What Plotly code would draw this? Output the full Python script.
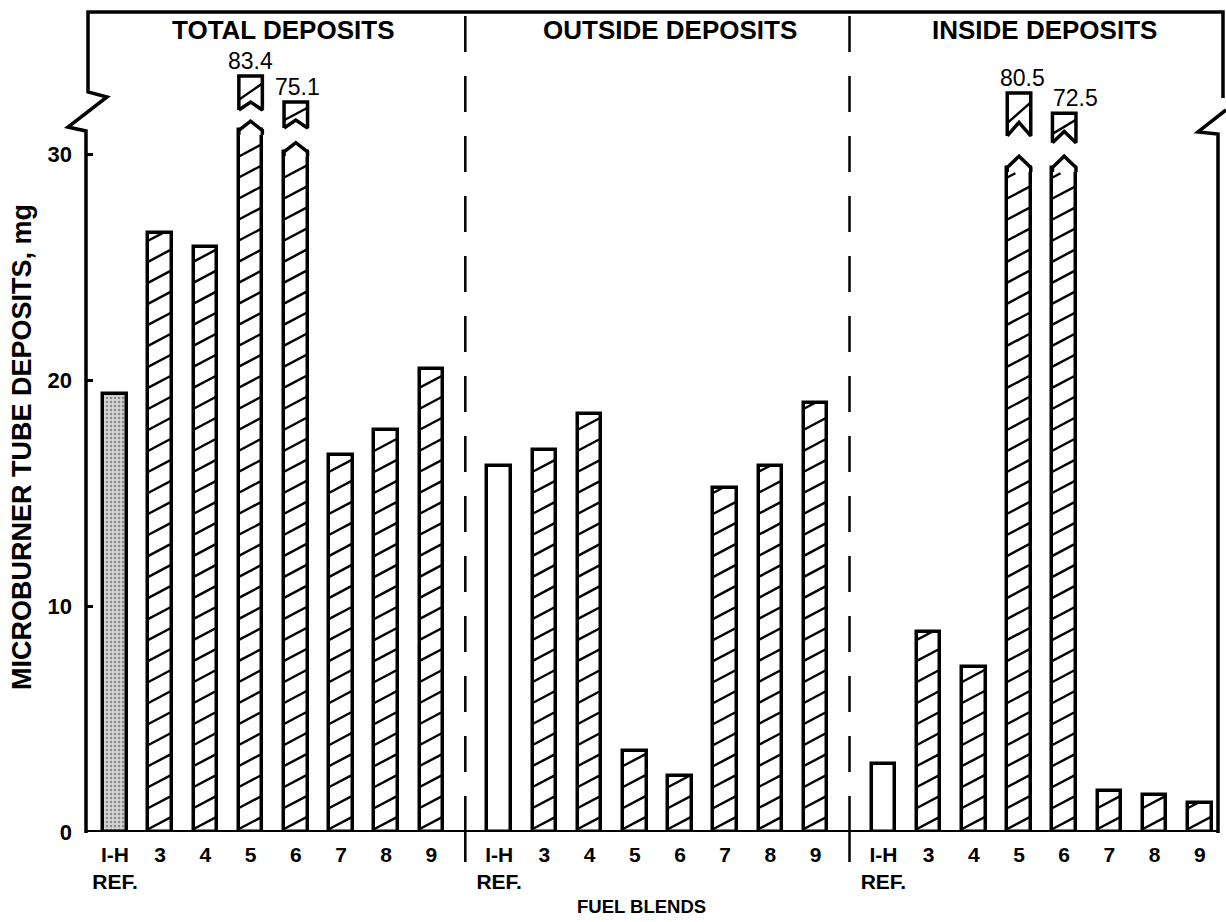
import plotly.graph_objects as go

# ---------------- data ----------------
BLENDS = ["I-H<br>REF.", "3", "4", "5", "6", "7", "8", "9"]
GROUPS = ["TOTAL DEPOSITS", "OUTSIDE DEPOSITS", "INSIDE DEPOSITS"]
TOTAL = [19.4, 26.5, 25.9, 83.4, 75.1, 16.7, 17.8, 20.5]
OUTSIDE = [16.2, 16.9, 18.5, 3.6, 2.5, 15.2, 16.2, 19.0]
INSIDE = [3.0, 8.85, 7.3, 80.5, 72.5, 1.8, 1.65, 1.3]
Y_TICKS = [0, 10, 20, 30]
SERIES = [TOTAL, OUTSIDE, INSIDE]
Y_TITLE = "MICROBURNER TUBE DEPOSITS, mg"
X_TITLE = "FUEL BLENDS"

# ---------------- layout constants ----------------
W, H = 1226, 922
ML, MR, MT, MB = 85, 7, 12, 90
PLOT_W, PLOT_H = W - ML - MR, H - MT - MB
PX_Y = 22.6                      # pixels per mg
YMAX = PLOT_H / PX_Y
PX_X = 45.2                      # pixels per bar slot
FIRST_BAR_PX = 115
XMIN = -(FIRST_BAR_PX - ML) / PX_X
XMAX = XMIN + PLOT_W / PX_X
GROUP_STEP = 8.5
BAR_W = 0.52
AXIS_CAP = 30.0
HATCH_GAP = 0.93
HATCH_RISE = 0.55
OUTLINE = 3.5
FONT = "Liberation Sans, Arial, sans-serif"

# how each off-scale bar is drawn (axis units): shoulder, tip, piece bottom,
# notch apex, piece top, label x-shift (px)
BREAKS = {
    (0, 3): dict(s=31.05, tip=31.45, pb=31.95, notch=32.3, pt=33.45, dx=0),
    (0, 4): dict(s=30.10, tip=30.50, pb=31.15, notch=31.5, pt=32.30, dx=2),
    (2, 3): dict(s=29.40, tip=29.90, pb=30.80, notch=31.4, pt=32.70, dx=3),
    (2, 4): dict(s=29.40, tip=29.90, pb=30.50, notch=31.0, pt=31.80, dx=11),
}


def xpos(g, i):
    return g * GROUP_STEP + i


def px_to_paper(px, py):
    return (px - ML) / PLOT_W, (H - MB - py) / PLOT_H


def hatch(xc, top, bottom=0.0, phase=-0.25):
    xl, xr = xc - BAR_W / 2, xc + BAR_W / 2
    k = HATCH_RISE / (xr - xl)
    xs, ys = [], []
    c = bottom + phase - HATCH_RISE
    while c < top:
        xa, ya, xb, yb = xl, c, xr, c + HATCH_RISE
        if ya < bottom:
            xa, ya = xl + (bottom - c) / k, bottom
        if yb > top:
            xb, yb = xl + (top - c) / k, top
        if xb - xa > 0.02:
            xs += [xa, xb, None]
            ys += [ya, yb, None]
        c += HATCH_GAP
    return xs, ys


fig = go.Figure()

# ---------------- bars ----------------
ref_x, ref_y, ref_col, ref_pat = [], [], [], []
hat_x, hat_y = [], []
hx, hy = [], []
for g, vals in enumerate(SERIES):
    for i, v in enumerate(vals):
        x = xpos(g, i)
        if i == 0:
            ref_x.append(x)
            ref_y.append(v)
            ref_col.append("#d2d2d2" if g == 0 else "white")
            ref_pat.append("." if g == 0 else "")
            continue
        shown = BREAKS[(g, i)]["s"] if v > AXIS_CAP else v
        hat_x.append(x)
        hat_y.append(shown)
        xs, ys = hatch(x, shown - (0.25 if v > AXIS_CAP else 0))
        hx += xs
        hy += ys

fig.add_trace(go.Bar(
    x=ref_x, y=ref_y, width=BAR_W,
    marker=dict(color=ref_col, line=dict(color="black", width=OUTLINE),
                pattern=dict(shape=ref_pat, fgcolor="#8a8a8a", size=4, solidity=0.3)),
    hoverinfo="skip", showlegend=False))
fig.add_trace(go.Bar(
    x=hat_x, y=hat_y, width=BAR_W,
    marker=dict(color="white", line=dict(color="black", width=OUTLINE)),
    hoverinfo="skip", showlegend=False))
fig.add_trace(go.Scatter(x=hx, y=hy, mode="lines",
                         line=dict(color="black", width=2.4),
                         hoverinfo="skip", showlegend=False))

# ---------------- broken bars: pointed tips and floating pieces ----------------
px_x, px_y = [], []
for (g, i), b in BREAKS.items():
    x = xpos(g, i)
    xl, xr = x - BAR_W / 2, x + BAR_W / 2
    fig.add_trace(go.Scatter(
        x=[xl, xl, x, xr, xr], y=[b["s"] - 0.2, b["s"], b["tip"], b["s"], b["s"] - 0.2],
        mode="lines", fill="toself", fillcolor="white",
        line=dict(color="black", width=OUTLINE), hoverinfo="skip", showlegend=False))
    fig.add_trace(go.Scatter(
        x=[xl, xl, xr, xr, x, xl], y=[b["pb"], b["pt"], b["pt"], b["pb"], b["notch"], b["pb"]],
        mode="lines", fill="toself", fillcolor="white",
        line=dict(color="black", width=OUTLINE), hoverinfo="skip", showlegend=False))
    h = b["pt"] - b["pb"]
    px_x += [xl, xr, None]
    px_y += [b["pb"] + 0.3 * h, b["pb"] + 0.78 * h, None]
    fig.add_annotation(x=x, y=b["pt"], yanchor="bottom", xanchor="center",
                       text=f"{SERIES[g][i]:.1f}", showarrow=False, yshift=0, xshift=b["dx"],
                       font=dict(family=FONT, size=23, color="black"))
fig.add_trace(go.Scatter(x=px_x, y=px_y, mode="lines",
                         line=dict(color="black", width=2.4),
                         hoverinfo="skip", showlegend=False))

# ---------------- frame with axis breaks ----------------
def path(points):
    parts = []
    for n, (a, b) in enumerate(points):
        xp, yp = px_to_paper(a, b)
        parts.append(("M" if n == 0 else "L") + f"{xp:.5f},{yp:.5f}")
    return " ".join(parts)


frame_style = dict(type="path", xref="paper", yref="paper",
                   line=dict(color="black", width=OUTLINE), layer="above")
fig.add_shape(path=path([(1223, 98), (1223, 12), (88, 12), (88, 92), (107, 97),
                         (68, 127), (86, 131), (86, 833)]), **frame_style)
fig.add_shape(path=path([(1226, 110), (1198, 132), (1218, 134), (1218, 833)]), **frame_style)
# baseline
fig.add_shape(type="line", xref="paper", yref="y", x0=0, x1=1, y0=0, y1=0,
              line=dict(color="black", width=4), layer="above")

# group separators
for g in range(1, len(GROUPS)):
    xs = (xpos(g - 1, len(BLENDS) - 1) + xpos(g, 0)) / 2
    fig.add_shape(type="line", xref="x", yref="paper", x0=xs, x1=xs, y0=0, y1=1,
                  line=dict(color="black", width=2.5, dash="36px,24px"))
    fig.add_shape(type="line", xref="x", yref="paper", x0=xs, x1=xs, y0=0, y1=-30 / PLOT_H,
                  line=dict(color="black", width=2.5))

# group titles
title_shift = [10, 13, 3]
for g, name in enumerate(GROUPS):
    xc = (xpos(g, 0) + xpos(g, len(BLENDS) - 1)) / 2
    fig.add_annotation(x=xc, xshift=title_shift[g], y=px_to_paper(0, 30)[1], yref="paper",
                       text=f"<b>{name}</b>", showarrow=False, yanchor="middle",
                       font=dict(family=FONT, size=26, color="black"))

# axis titles
ytx, yty = px_to_paper(22, 447)
fig.add_annotation(x=ytx, y=yty, xref="paper", yref="paper", text=f"<b>{Y_TITLE}</b>",
                   textangle=-90, showarrow=False, xanchor="center", yanchor="middle",
                   font=dict(family=FONT, size=27, color="black"))
xtx, xty = px_to_paper(641, 906)
fig.add_annotation(x=xtx, y=xty, xref="paper", yref="paper", text=f"<b>{X_TITLE}</b>",
                   showarrow=False, xanchor="center", yanchor="middle",
                   font=dict(family=FONT, size=18.5, color="black"))

tick_x = [xpos(g, i) for g in range(len(GROUPS)) for i in range(len(BLENDS))]
tick_t = [f"<b>{t}</b>" for _ in GROUPS for t in BLENDS]

fig.update_layout(
    width=W, height=H,
    margin=dict(l=ML, r=MR, t=MT, b=MB, autoexpand=False),
    paper_bgcolor="white", plot_bgcolor="white",
    showlegend=False, bargap=0,
    font=dict(family=FONT, color="black"),
    xaxis=dict(range=[XMIN, XMAX], tickmode="array", tickvals=tick_x, ticktext=tick_t,
               showgrid=False, zeroline=False, showline=False, ticks="",
               tickfont=dict(family=FONT, size=21, color="black"), ticklabelstandoff=8),
    yaxis=dict(range=[0, YMAX], tickmode="array", tickvals=Y_TICKS,
               ticktext=[f"<b>{t}</b>" for t in Y_TICKS],
               showgrid=False, zeroline=False, showline=False,
               ticks="inside", ticklen=8, tickwidth=3, tickcolor="black",
               tickfont=dict(family=FONT, size=22, color="black"), ticklabelstandoff=12),
)

fig.write_html("out.html", config={"displayModeBar": False},
               post_script="document.body.style.margin='0';")
